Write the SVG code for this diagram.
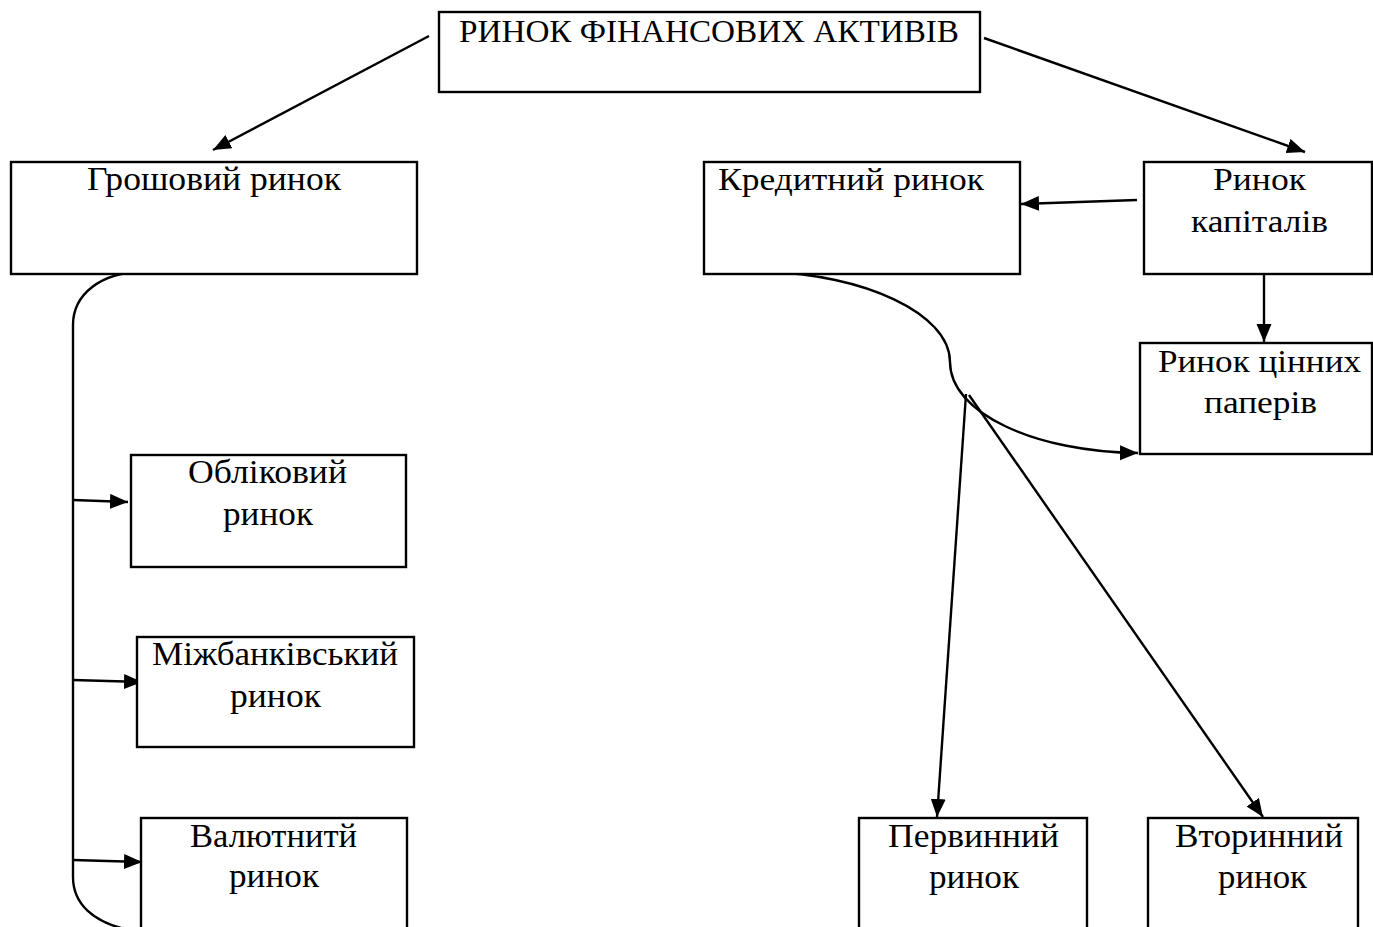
<svg xmlns="http://www.w3.org/2000/svg" width="1373" height="927" viewBox="0 0 1373 927">
  <style>
    .box { fill: #ffffff; stroke: #000000; stroke-width: 2.4; }
    .lbl { font-family: "Liberation Serif", "Times New Roman", serif; font-size: 32px; fill: #000000; }
    .wide { font-size: 34px; }
    .wire { fill: none; stroke: #000000; stroke-width: 2.4; }
  </style>
  <defs>
    <marker id="head" markerUnits="userSpaceOnUse" markerWidth="19" markerHeight="16" refX="18" refY="7.5" orient="auto">
      <path d="M0,0 L18,7.5 L0,15 z" fill="#000000"/>
    </marker>
  </defs>
  <rect width="1373" height="927" fill="#ffffff"/>

  <g id="connectors">
    <line class="wire" x1="429" y1="36" x2="213" y2="150" marker-end="url(#head)"/>
    <line class="wire" x1="984" y1="38" x2="1305" y2="152" marker-end="url(#head)"/>
    <line class="wire" x1="1137" y1="200" x2="1021" y2="204" marker-end="url(#head)"/>
    <line class="wire" x1="1264" y1="274" x2="1264" y2="342" marker-end="url(#head)"/>
    <path class="wire" d="M143,272 C100,272 73,295 73,325 L73,877 C73,905 95,922 125,929"/>
    <line class="wire" x1="73" y1="500" x2="128" y2="502" marker-end="url(#head)"/>
    <line class="wire" x1="73" y1="680" x2="142" y2="682" marker-end="url(#head)"/>
    <line class="wire" x1="73" y1="860" x2="142" y2="862" marker-end="url(#head)"/>
    <path class="wire" d="M766,272 C862,274 950,313 950,362 C950,413 1035,452 1138,453" marker-end="url(#head)"/>
    <line class="wire" x1="966" y1="394" x2="937" y2="817" marker-end="url(#head)"/>
    <line class="wire" x1="969" y1="395" x2="1263" y2="817" marker-end="url(#head)"/>
  </g>

  <g id="financial-assets">
    <rect class="box" x="439" y="12" width="541" height="80"/>
    <text class="lbl" x="459" y="42" textLength="500" lengthAdjust="spacingAndGlyphs">РИНОК ФІНАНСОВИХ АКТИВІВ</text>
  </g>

  <g id="money-market">
    <rect class="box" x="11" y="162" width="406" height="112"/>
    <text class="lbl wide" x="87" y="190" textLength="254" lengthAdjust="spacingAndGlyphs">Грошовий ринок</text>
  </g>

  <g id="credit-market">
    <rect class="box" x="704" y="162" width="316" height="112"/>
    <text class="lbl" x="718" y="190" textLength="266" lengthAdjust="spacingAndGlyphs">Кредитний ринок</text>
  </g>

  <g id="capital-market">
    <rect class="box" x="1144" y="162" width="228" height="112"/>
    <text class="lbl" x="1213" y="190" textLength="93" lengthAdjust="spacingAndGlyphs">Ринок</text>
    <text class="lbl" x="1191" y="232" textLength="137" lengthAdjust="spacingAndGlyphs">капіталів</text>
  </g>

  <g id="securities-market">
    <rect class="box" x="1140" y="343" width="232" height="111"/>
    <text class="lbl" x="1158" y="372" textLength="203" lengthAdjust="spacingAndGlyphs">Ринок цінних</text>
    <text class="lbl" x="1204" y="413" textLength="113" lengthAdjust="spacingAndGlyphs">паперів</text>
  </g>

  <g id="discount-market">
    <rect class="box" x="131" y="455" width="275" height="112"/>
    <text class="lbl wide" x="188" y="483" textLength="159" lengthAdjust="spacingAndGlyphs">Обліковий</text>
    <text class="lbl wide" x="223" y="525" textLength="90" lengthAdjust="spacingAndGlyphs">ринок</text>
  </g>

  <g id="interbank-market">
    <rect class="box" x="137" y="637" width="277" height="110"/>
    <text class="lbl wide" x="152" y="665" textLength="246" lengthAdjust="spacingAndGlyphs">Міжбанківський</text>
    <text class="lbl wide" x="230" y="707" textLength="91" lengthAdjust="spacingAndGlyphs">ринок</text>
  </g>

  <g id="currency-market">
    <rect class="box" x="141" y="818" width="266" height="130"/>
    <text class="lbl wide" x="190" y="847" textLength="167" lengthAdjust="spacingAndGlyphs">Валютнитй</text>
    <text class="lbl wide" x="229" y="887" textLength="90" lengthAdjust="spacingAndGlyphs">ринок</text>
  </g>

  <g id="primary-market">
    <rect class="box" x="859" y="818" width="228" height="130"/>
    <text class="lbl wide" x="888" y="847" textLength="171" lengthAdjust="spacingAndGlyphs">Первинний</text>
    <text class="lbl wide" x="929" y="888" textLength="90" lengthAdjust="spacingAndGlyphs">ринок</text>
  </g>

  <g id="secondary-market">
    <rect class="box" x="1148" y="818" width="210" height="130"/>
    <text class="lbl wide" x="1175" y="847" textLength="168" lengthAdjust="spacingAndGlyphs">Вторинний</text>
    <text class="lbl wide" x="1218" y="888" textLength="89" lengthAdjust="spacingAndGlyphs">ринок</text>
  </g>
</svg>
